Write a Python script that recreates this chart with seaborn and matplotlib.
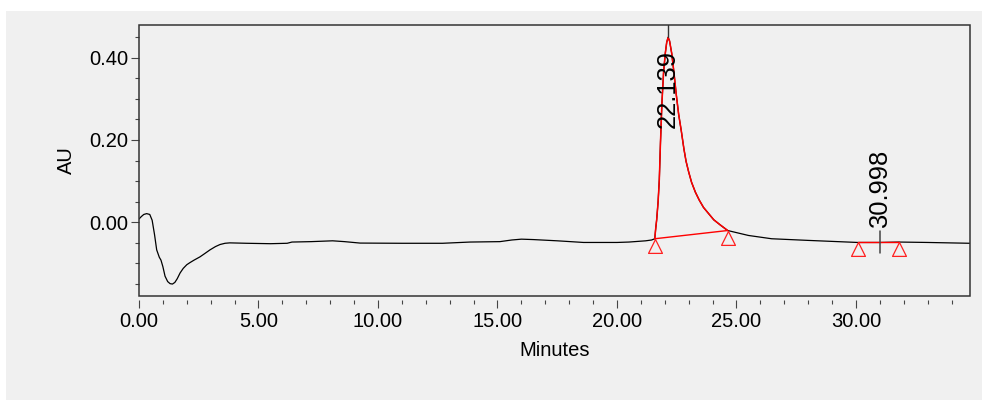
import matplotlib
matplotlib.use("Agg")
import matplotlib.pyplot as plt
from matplotlib.patches import Rectangle
from matplotlib.path import Path
from matplotlib.ticker import MultipleLocator, FormatStrFormatter
import numpy as np
import pandas as pd
import seaborn as sns

# Detector trace (minutes, AU)
minutes = [
    0.00, 0.10, 0.20, 0.32, 0.45, 0.55, 0.65, 0.74, 0.85, 0.92, 1.00, 1.09,
    1.20, 1.30, 1.40, 1.50, 1.60, 1.72, 1.85, 2.00, 2.13, 2.30, 2.55, 2.75,
    2.97, 3.20, 3.39, 3.60, 3.80, 4.50, 5.50, 6.20, 6.40, 7.20, 8.10, 8.60,
    9.25, 11.00, 12.70, 13.85, 15.10, 15.60, 16.00, 16.50, 17.50, 18.60,
    20.00, 20.50, 21.20, 21.45, 21.58, 21.62, 21.66, 21.72, 21.77, 21.82,
    21.88, 21.95, 22.02, 22.08, 22.139, 22.20, 22.29, 22.38, 22.48, 22.58,
    22.69, 22.80, 22.89, 23.00, 23.12, 23.28, 23.44, 23.62, 23.82, 24.05,
    24.31, 24.63, 25.50, 26.47, 28.00, 30.07, 31.00, 31.80, 33.00, 34.77,
]
absorbance = [
    0.008, 0.014, 0.019, 0.021, 0.019, 0.005, -0.030, -0.067, -0.085, -0.092,
    -0.108, -0.131, -0.144, -0.149, -0.150, -0.146, -0.137, -0.123, -0.112,
    -0.103, -0.098, -0.092, -0.084, -0.076, -0.067, -0.059, -0.054, -0.051,
    -0.050, -0.051, -0.052, -0.051, -0.048, -0.047, -0.045, -0.047, -0.0505,
    -0.051, -0.051, -0.048, -0.047, -0.043, -0.041, -0.042, -0.045, -0.049,
    -0.049, -0.048, -0.045, -0.043, -0.040, -0.015, 0.006, 0.050, 0.103,
    0.195, 0.290, 0.365, 0.410, 0.437, 0.449, 0.440, 0.410, 0.365, 0.310,
    0.262, 0.222, 0.178, 0.148, 0.122, 0.097, 0.073, 0.054, 0.036, 0.022,
    0.006, -0.006, -0.020, -0.032, -0.040, -0.044, -0.049, -0.049, -0.048,
    -0.049, -0.051,
]

# Integration results
peak_rt = [22.139, 30.998]
peak_labels = ["22.139", "30.998"]
peak_top = [0.449, -0.049]
base_start_t = [21.58, 30.07]
base_start_y = [-0.040, -0.048]
base_end_t = [24.63, 31.80]
base_end_y = [-0.020, -0.048]

sns.set_style("white")
plt.rcParams["font.family"] = ["Liberation Sans", "DejaVu Sans"]

W, H = 982, 400
fig = plt.figure(figsize=(W / 100, H / 100), dpi=100, facecolor="white")
fig.patches.append(Rectangle((6 / W, 0), 1 - 6 / W, 1 - 11 / H,
                             transform=fig.transFigure, facecolor="#f0f0f0",
                             edgecolor="none", zorder=-5))

left, right, top, bottom = 139, 970, 25, 296
ax = fig.add_axes([left / W, 1 - bottom / H, (right - left) / W, (bottom - top) / H])
ax.set_facecolor("#f0f0f0")

trace = pd.DataFrame({"Minutes": minutes, "AU": absorbance})
sns.lineplot(data=trace, x="Minutes", y="AU", ax=ax, color="black",
             linewidth=0.9, sort=True, zorder=3)

# integrated region of the main peak in red
sel = trace[(trace["Minutes"] >= base_start_t[0]) & (trace["Minutes"] <= base_end_t[0])]
ax.plot(sel["Minutes"], sel["AU"], color="#ff0000", linewidth=1.1, zorder=4)

# baselines with triangle markers at start/end
tri = Path([(0, 0), (-0.5, -1), (0.5, -1), (0, 0)],
           [Path.MOVETO, Path.LINETO, Path.LINETO, Path.CLOSEPOLY])
for i in range(len(peak_rt)):
    ax.plot([base_start_t[i], base_end_t[i]], [base_start_y[i], base_end_y[i]],
            color="#ff0000", linewidth=1.0, zorder=4)
    ax.plot([base_start_t[i], base_end_t[i]], [base_start_y[i], base_end_y[i]],
            linestyle="none", marker=tri, markersize=20, markerfacecolor="none",
            markeredgecolor="#ff2020", markeredgewidth=0.9, zorder=5)

# retention time labels
ax.plot([peak_rt[0], peak_rt[0]], [peak_top[0], 0.479], color="#333333",
        linewidth=1.0, zorder=5)
ax.text(peak_rt[0], 0.418, peak_labels[0], rotation=90, ha="center", va="top",
        fontsize=18.4, color="black", zorder=6)
ax.plot([peak_rt[1], peak_rt[1]], [-0.022, -0.075], color="#444444",
        linewidth=1.1, zorder=5)
ax.text(peak_rt[1], -0.013, peak_labels[1], rotation=90, ha="center",
        va="bottom", fontsize=18.4, color="black", zorder=6)

ax.set_xlim(0, 34.77)
ax.set_ylim(-0.179, 0.479)

ax.xaxis.set_major_locator(MultipleLocator(5))
ax.xaxis.set_minor_locator(MultipleLocator(1))
ax.xaxis.set_major_formatter(FormatStrFormatter("%.2f"))
ax.yaxis.set_major_locator(MultipleLocator(0.2))
ax.yaxis.set_minor_locator(MultipleLocator(0.05))
ax.yaxis.set_major_formatter(FormatStrFormatter("%.2f"))

for s in ax.spines.values():
    s.set_visible(False)
ax.spines["bottom"].set_position(("outward", 3))
ax.add_patch(Rectangle((0, 0), 1, 1, transform=ax.transAxes, fill=False,
                       edgecolor="#333333", linewidth=1.1, zorder=7, clip_on=False))

ax.tick_params(axis="both", which="both", direction="out", colors="#444444",
               labelcolor="black", labelsize=14.5)
ax.tick_params(axis="x", which="major", bottom=True, length=5.8, width=0.8, pad=3)
ax.tick_params(axis="x", which="minor", bottom=True, length=3, width=0.8)
ax.tick_params(axis="y", which="major", left=True, length=5.8, width=0.8, pad=1.7)
ax.tick_params(axis="y", which="minor", left=True, length=3, width=0.8)

ax.set_xlabel("Minutes", fontsize=14.5, color="black")
ax.set_ylabel("AU", fontsize=14.5, color="black")
ax.xaxis.label.set_va("center")
ax.xaxis.set_label_coords(0.5, (bottom - 350) / (bottom - top))
ax.yaxis.label.set_va("center")
ax.yaxis.set_label_coords((66.7 - left) / (right - left), 0.5)

fig.savefig("out.png", dpi=100, facecolor="white")
